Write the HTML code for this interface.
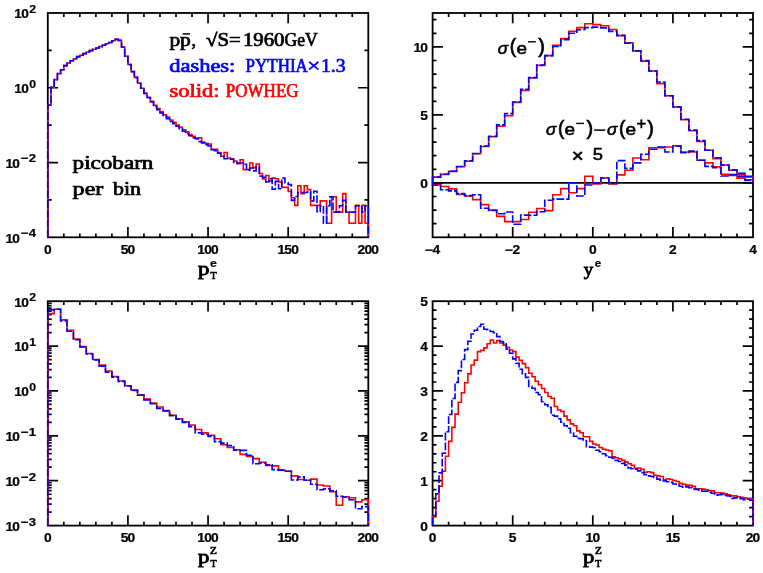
<!DOCTYPE html>
<html><head><meta charset="utf-8"><title>plot</title>
<style>
html,body{margin:0;padding:0;background:#fff;}
body{width:763px;height:573px;overflow:hidden;}
svg{display:block;will-change:transform;opacity:0.999;}
text{font-family:"Liberation Sans",sans-serif;fill:#000;}
.tl{font-size:12px;font-weight:bold;stroke:#000;stroke-width:0.2px;letter-spacing:-0.7px;}
.ser{font-family:"Liberation Serif",serif;font-weight:normal;font-size:18px;stroke:#000;stroke-width:0.7px;}
.axp{font-family:"Liberation Serif",serif;font-weight:normal;font-size:20.5px;stroke:#000;stroke-width:0.8px;}
.axs{font-family:"Liberation Serif",serif;font-weight:normal;font-size:12px;stroke:#000;stroke-width:0.6px;}
.supe{font-size:12px;font-weight:bold;}
.sig{font-size:17.5px;font-weight:normal;stroke:#000;stroke-width:0.35px;}
.it{font-style:italic;}
</style></head>
<body>
<svg width="763" height="573" viewBox="0 0 763 573">
<rect width="763" height="573" fill="#fff"/>
<rect x="47.8" y="13" width="320.5" height="224.3" fill="none" stroke="#000" stroke-width="1.8"/>
<path d="M127.92 237.3v-10.3M127.92 13v10.3M208.05 237.3v-10.3M208.05 13v10.3M288.18 237.3v-10.3M288.18 13v10.3M63.83 237.3v-3.9M63.83 13v3.9M79.85 237.3v-3.9M79.85 13v3.9M95.88 237.3v-3.9M95.88 13v3.9M111.9 237.3v-3.9M111.9 13v3.9M143.95 237.3v-3.9M143.95 13v3.9M159.97 237.3v-3.9M159.97 13v3.9M176 237.3v-3.9M176 13v3.9M192.02 237.3v-3.9M192.02 13v3.9M224.07 237.3v-3.9M224.07 13v3.9M240.1 237.3v-3.9M240.1 13v3.9M256.12 237.3v-3.9M256.12 13v3.9M272.15 237.3v-3.9M272.15 13v3.9M304.2 237.3v-3.9M304.2 13v3.9M320.23 237.3v-3.9M320.23 13v3.9M336.25 237.3v-3.9M336.25 13v3.9M352.27 237.3v-3.9M352.27 13v3.9" stroke="#000" stroke-width="1.7" fill="none"/>
<path d="M47.8 87.77h10.3M368.3 87.77h-10.3M47.8 162.53h10.3M368.3 162.53h-10.3M47.8 50.38h3.9M368.3 50.38h-3.9M47.8 125.15h3.9M368.3 125.15h-3.9M47.8 199.92h3.9M368.3 199.92h-3.9" stroke="#000" stroke-width="1.7" fill="none"/>
<text class="tl" text-anchor="middle" transform="translate(47.4 253.7) scale(1.15 1)">0</text>
<text class="tl" text-anchor="middle" transform="translate(127.52 253.7) scale(1.15 1)">50</text>
<text class="tl" text-anchor="middle" transform="translate(207.65 253.7) scale(1.15 1)">100</text>
<text class="tl" text-anchor="middle" transform="translate(287.78 253.7) scale(1.15 1)">150</text>
<text class="tl" text-anchor="middle" transform="translate(367.9 253.7) scale(1.15 1)">200</text>
<text class="tl" text-anchor="end" transform="translate(27.95 18.3) scale(1.14 1)">10</text>
<text class="tl" text-anchor="end" transform="translate(35.3 12.9) scale(1.06 1)" style="font-size:11.5px">2</text>
<text class="tl" text-anchor="end" transform="translate(27.95 93.07) scale(1.14 1)">10</text>
<text class="tl" text-anchor="end" transform="translate(35.3 87.67) scale(1.06 1)" style="font-size:11.5px">0</text>
<text class="tl" text-anchor="end" transform="translate(19.15 167.83) scale(1.14 1)">10</text>
<text class="tl" x="21.1" y="162.43" textLength="15" lengthAdjust="spacingAndGlyphs" style="font-size:11.5px;letter-spacing:0">−2</text>
<text class="tl" text-anchor="end" transform="translate(19.15 242.6) scale(1.14 1)">10</text>
<text class="tl" x="21.1" y="237.2" textLength="15" lengthAdjust="spacingAndGlyphs" style="font-size:11.5px;letter-spacing:0">−4</text>
<path d="M47.8 237.3V105.1H51V87.4H54.21V79.6H57.41V73.6H60.62V69.7H63.82V65.6H67.03V63H70.23V60.8H73.44V58.8H76.64V56.6H79.85V55.2H83.06V53.6H86.26V52H89.47V50.6H92.67V49.3H95.88V48H99.08V46.6H102.28V45.2H105.49V43.8H108.69V42.5H111.9V40.8H115.11V39.4H118.31V40.4H121.52V47H124.72V56.2H127.92V64.5H131.13V71.6H134.33V77.4H137.54V83.2H140.75V88.2H143.95V93.4H147.16V97.5H150.36V101.6H153.56V105.3H156.77V108.6H159.97V111.9H163.18V114.8H166.38V117.1H169.59V120H172.8V122.4H176V125H179.2V127.2H182.41V129.8H185.62V131.9H188.82V134.5H192.02V136.3H195.23V138.1H198.44V137.8H201.64V143.3H204.85V143.3H208.05V144H211.25V149.2H214.46V149.2H217.67V152.5H220.87V156.3H224.07V152.5H227.28V158H230.49V158.9H233.69V161H236.89V163.7H240.1V159.7H243.31V169.6H246.51V169.6H249.71V163H252.92V167.6H256.12V164H259.33V173.5H262.54V179H265.74V175.5H268.94V181.1H272.15V178.1H275.36V178.8H278.56V182H281.76V187.4H284.97V187.4H288.18V191.5H291.38V197.8H294.58V205.4H297.79V185.7H301V193.8H304.2V185.7H307.41V189.6H310.61V205.4H313.81V205.4H317.02V205.4H320.23V200.9H323.43V200.9H326.63V223.2H329.84V223.2H331.6V196.8H333.05V196.8H336.25V212.1H339.46V212.1H342.66V193.6H345.87V212.1H349.07V223.2H352.28V223.2H355.48V205.4H358.69V223.2H361.89V205.4H365.1V223.2H368.3V237.3" fill="none" stroke="#ff0000" stroke-width="1.6" stroke-linejoin="miter"/>
<path d="M47.8 237.3V105.1H51V87.4H54.21V79.6H57.41V73.6H60.62V69.7H63.82V65.6H67.03V63H70.23V60.8H73.44V58.8H76.64V56.6H79.85V55.2H83.06V53.6H86.26V52H89.47V50.6H92.67V49.3H95.88V48H99.08V46.6H102.28V45.2H105.49V43.8H108.69V42.5H111.9V40.8H115.11V39.4H118.31V40.4H121.52V47H124.72V56.2H127.92V64.5H131.13V71.6H134.33V77.4H137.54V83.2H140.75V88.2H143.95V93.4H147.16V97.5H150.36V101.6H153.56V106.4H156.77V109.7H159.97V113H163.18V115.8H166.38V118.6H169.59V121.5H172.8V123.8H176V126.2H179.2V128.7H182.41V131.3H185.62V133.6H188.82V135.7H192.02V137.8H195.23V138.8H198.44V141.6H201.64V142.3H204.85V144.6H208.05V146H211.25V149.7H214.46V150.6H217.67V153.2H220.87V156.5H224.07V158.8H227.28V158.8H230.49V159.3H233.69V162.4H236.89V163H240.1V163H243.31V164.3H246.51V170.2H249.71V168H252.92V170.9H256.12V166.9H259.33V176.1H262.54V177.4H265.74V182H268.94V178.7H272.15V189.2H275.36V181.4H278.56V188.8H281.76V178.1H284.97V182.7H288.18V184.6H291.38V200.4H294.58V196.5H297.79V192.5H301V192.5H304.2V192.5H307.41V191.9H310.61V200.9H313.81V191.2H317.02V211.8H320.23V205.7H323.43V223.2H326.63V205.7H329.84V196.8H333.05V212.1H336.25V212.1H339.46V205.7H342.66V200.4H345.87V212.1H349.07V212.1H352.28V212.1H355.48V205.7H358.69V205.7H361.89V212.1H365.1V205.7H368.3V237.3" fill="none" stroke="#0000ff" stroke-width="1.6" stroke-dasharray="7.8 2.0" stroke-linejoin="miter"/>
<path d="M432.6 182.9H753" stroke="#000" stroke-width="1.7" fill="none"/>
<rect x="432.6" y="13" width="320.4" height="224.3" fill="none" stroke="#000" stroke-width="1.8"/>
<path d="M512.7 237.3v-10.3M512.7 13v10.3M592.8 237.3v-10.3M592.8 13v10.3M672.9 237.3v-10.3M672.9 13v10.3M448.62 237.3v-3.9M448.62 13v3.9M464.64 237.3v-3.9M464.64 13v3.9M480.66 237.3v-3.9M480.66 13v3.9M496.68 237.3v-3.9M496.68 13v3.9M528.72 237.3v-3.9M528.72 13v3.9M544.74 237.3v-3.9M544.74 13v3.9M560.76 237.3v-3.9M560.76 13v3.9M576.78 237.3v-3.9M576.78 13v3.9M608.82 237.3v-3.9M608.82 13v3.9M624.84 237.3v-3.9M624.84 13v3.9M640.86 237.3v-3.9M640.86 13v3.9M656.88 237.3v-3.9M656.88 13v3.9M688.92 237.3v-3.9M688.92 13v3.9M704.94 237.3v-3.9M704.94 13v3.9M720.96 237.3v-3.9M720.96 13v3.9M736.98 237.3v-3.9M736.98 13v3.9" stroke="#000" stroke-width="1.7" fill="none"/>
<path d="M432.6 46.9h10.3M753 46.9h-10.3M432.6 114.9h10.3M753 114.9h-10.3M432.6 182.9h10.3M753 182.9h-10.3M432.6 223.7h3.9M753 223.7h-3.9M432.6 210.1h3.9M753 210.1h-3.9M432.6 196.5h3.9M753 196.5h-3.9M432.6 169.3h3.9M753 169.3h-3.9M432.6 155.7h3.9M753 155.7h-3.9M432.6 142.1h3.9M753 142.1h-3.9M432.6 128.5h3.9M753 128.5h-3.9M432.6 101.3h3.9M753 101.3h-3.9M432.6 87.7h3.9M753 87.7h-3.9M432.6 74.1h3.9M753 74.1h-3.9M432.6 60.5h3.9M753 60.5h-3.9M432.6 33.3h3.9M753 33.3h-3.9M432.6 19.7h3.9M753 19.7h-3.9" stroke="#000" stroke-width="1.7" fill="none"/>
<text class="tl" text-anchor="middle" transform="translate(432.2 253.7) scale(1.15 1)">−4</text>
<text class="tl" text-anchor="middle" transform="translate(512.3 253.7) scale(1.15 1)">−2</text>
<text class="tl" text-anchor="middle" transform="translate(592.4 253.7) scale(1.15 1)">0</text>
<text class="tl" text-anchor="middle" transform="translate(672.5 253.7) scale(1.15 1)">2</text>
<text class="tl" text-anchor="middle" transform="translate(752.6 253.7) scale(1.15 1)">4</text>
<text class="tl" text-anchor="end" transform="translate(427.2 188) scale(1.15 1)">0</text>
<text class="tl" text-anchor="end" transform="translate(427.2 120) scale(1.15 1)">5</text>
<text class="tl" text-anchor="end" transform="translate(427.2 52) scale(1.15 1)">10</text>
<path d="M432.6 182.9V177.1H440.61V174.4H448.62V171.4H456.63V166.8H464.64V161.2H472.65V153.7H480.66V146.5H488.67V136.7H496.68V126.2H504.69V115.7H512.7V102.4H520.71V90.5H528.72V77.9H536.73V65.4H544.74V55.6H552.75V45.4H560.76V38.6H568.77V31.2H576.78V27.6H584.79V23.8H592.8V24.6H600.81V25.7H608.82V29.5H616.83V35.6H624.84V42.7H632.85V50.9H640.86V61.1H648.87V71H656.88V83.6H664.89V95.7H672.9V106.9H680.91V119.7H688.92V130.7H696.93V141.5H704.94V150.2H712.95V158.6H720.96V165H728.97V170.3H736.98V174.6H744.99V176.9H753V182.9" fill="none" stroke="#ff0000" stroke-width="1.6" stroke-linejoin="miter"/>
<path d="M432.6 182.9V177.1H440.61V174.2H448.62V171.2H456.63V166.5H464.64V160.8H472.65V153.5H480.66V146H488.67V136.2H496.68V124.9H504.69V113.6H512.7V102H520.71V89.4H528.72V77.6H536.73V65H544.74V55.6H552.75V46.5H560.76V39.6H568.77V33.3H576.78V29.7H584.79V27.6H592.8V27.1H600.81V27.9H608.82V31.4H616.83V35.4H624.84V43.3H632.85V50.9H640.86V60.6H648.87V71H656.88V82H664.89V95.7H672.9V106.9H680.91V119.3H688.92V130.1H696.93V140.6H704.94V150.2H712.95V157.7H720.96V165H728.97V169.9H736.98V173.4H744.99V176.4H753V182.9" fill="none" stroke="#0000ff" stroke-width="1.6" stroke-dasharray="7.8 2.0" stroke-linejoin="miter"/>
<path d="M432.6 182.9V184.9H440.61V186.5H448.62V188.9H456.63V194.4H464.64V196H472.65V199.6H480.66V204.6H488.67V210.1H496.68V216.4H504.69V221.6H512.7V221.6H520.71V219.5H528.72V212.2H536.73V208.5H544.74V210.6H552.75V194.7H560.76V188.6H568.77V192.8H576.78V188.6H584.79V176.3H592.8V184H600.81V178H608.82V184H616.83V174.9H624.84V170.3H632.85V158H640.86V159.8H648.87V147.7H656.88V147.7H664.89V147H672.9V145.8H680.91V152H688.92V152H696.93V160.2H704.94V162.9H712.95V166.8H720.96V174.3H728.97V175.5H736.98V178.1H744.99V179.9H753V182.9" fill="none" stroke="#ff0000" stroke-width="1.6" stroke-linejoin="miter"/>
<path d="M432.6 182.9V185.3H440.61V189.7H448.62V190.9H456.63V193.6H464.64V195.6H472.65V194.7H480.66V208.2H488.67V210.4H496.68V213.7H504.69V212H512.7V224.3H520.71V215.1H528.72V215.3H536.73V211.7H544.74V200.2H552.75V199.1H560.76V199.1H568.77V182.8H576.78V196H584.79V185H592.8V183.1H600.81V178H608.82V183.5H616.83V160.6H624.84V168.4H632.85V162.9H640.86V154.3H648.87V149.2H656.88V147H664.89V152H672.9V146.2H680.91V152.8H688.92V151.1H696.93V160.2H704.94V166.4H712.95V167.7H720.96V176H728.97V174.6H736.98V176.4H744.99V180.4H753V182.9" fill="none" stroke="#0000ff" stroke-width="1.6" stroke-dasharray="7.8 2.0" stroke-linejoin="miter"/>
<rect x="47.8" y="301.2" width="320.5" height="224.4" fill="none" stroke="#000" stroke-width="1.8"/>
<path d="M127.92 525.6v-10.3M127.92 301.2v10.3M208.05 525.6v-10.3M208.05 301.2v10.3M288.18 525.6v-10.3M288.18 301.2v10.3M63.83 525.6v-3.9M63.83 301.2v3.9M79.85 525.6v-3.9M79.85 301.2v3.9M95.88 525.6v-3.9M95.88 301.2v3.9M111.9 525.6v-3.9M111.9 301.2v3.9M143.95 525.6v-3.9M143.95 301.2v3.9M159.97 525.6v-3.9M159.97 301.2v3.9M176 525.6v-3.9M176 301.2v3.9M192.02 525.6v-3.9M192.02 301.2v3.9M224.07 525.6v-3.9M224.07 301.2v3.9M240.1 525.6v-3.9M240.1 301.2v3.9M256.12 525.6v-3.9M256.12 301.2v3.9M272.15 525.6v-3.9M272.15 301.2v3.9M304.2 525.6v-3.9M304.2 301.2v3.9M320.23 525.6v-3.9M320.23 301.2v3.9M336.25 525.6v-3.9M336.25 301.2v3.9M352.27 525.6v-3.9M352.27 301.2v3.9" stroke="#000" stroke-width="1.7" fill="none"/>
<path d="M47.8 346.08h10.3M368.3 346.08h-10.3M47.8 390.96h10.3M368.3 390.96h-10.3M47.8 435.84h10.3M368.3 435.84h-10.3M47.8 480.72h10.3M368.3 480.72h-10.3M47.8 332.57h3.9M368.3 332.57h-3.9M47.8 324.67h3.9M368.3 324.67h-3.9M47.8 319.06h3.9M368.3 319.06h-3.9M47.8 314.71h3.9M368.3 314.71h-3.9M47.8 311.16h3.9M368.3 311.16h-3.9M47.8 308.15h3.9M368.3 308.15h-3.9M47.8 305.55h3.9M368.3 305.55h-3.9M47.8 303.25h3.9M368.3 303.25h-3.9M47.8 377.45h3.9M368.3 377.45h-3.9M47.8 369.55h3.9M368.3 369.55h-3.9M47.8 363.94h3.9M368.3 363.94h-3.9M47.8 359.59h3.9M368.3 359.59h-3.9M47.8 356.04h3.9M368.3 356.04h-3.9M47.8 353.03h3.9M368.3 353.03h-3.9M47.8 350.43h3.9M368.3 350.43h-3.9M47.8 348.13h3.9M368.3 348.13h-3.9M47.8 422.33h3.9M368.3 422.33h-3.9M47.8 414.43h3.9M368.3 414.43h-3.9M47.8 408.82h3.9M368.3 408.82h-3.9M47.8 404.47h3.9M368.3 404.47h-3.9M47.8 400.92h3.9M368.3 400.92h-3.9M47.8 397.91h3.9M368.3 397.91h-3.9M47.8 395.31h3.9M368.3 395.31h-3.9M47.8 393.01h3.9M368.3 393.01h-3.9M47.8 467.21h3.9M368.3 467.21h-3.9M47.8 459.31h3.9M368.3 459.31h-3.9M47.8 453.7h3.9M368.3 453.7h-3.9M47.8 449.35h3.9M368.3 449.35h-3.9M47.8 445.8h3.9M368.3 445.8h-3.9M47.8 442.79h3.9M368.3 442.79h-3.9M47.8 440.19h3.9M368.3 440.19h-3.9M47.8 437.89h3.9M368.3 437.89h-3.9M47.8 512.09h3.9M368.3 512.09h-3.9M47.8 504.19h3.9M368.3 504.19h-3.9M47.8 498.58h3.9M368.3 498.58h-3.9M47.8 494.23h3.9M368.3 494.23h-3.9M47.8 490.68h3.9M368.3 490.68h-3.9M47.8 487.67h3.9M368.3 487.67h-3.9M47.8 485.07h3.9M368.3 485.07h-3.9M47.8 482.77h3.9M368.3 482.77h-3.9" stroke="#000" stroke-width="1.7" fill="none"/>
<text class="tl" text-anchor="middle" transform="translate(47.4 542) scale(1.15 1)">0</text>
<text class="tl" text-anchor="middle" transform="translate(127.52 542) scale(1.15 1)">50</text>
<text class="tl" text-anchor="middle" transform="translate(207.65 542) scale(1.15 1)">100</text>
<text class="tl" text-anchor="middle" transform="translate(287.78 542) scale(1.15 1)">150</text>
<text class="tl" text-anchor="middle" transform="translate(367.9 542) scale(1.15 1)">200</text>
<text class="tl" text-anchor="end" transform="translate(27.95 306.5) scale(1.14 1)">10</text>
<text class="tl" text-anchor="end" transform="translate(35.3 301.1) scale(1.06 1)" style="font-size:11.5px">2</text>
<text class="tl" text-anchor="end" transform="translate(27.95 351.38) scale(1.14 1)">10</text>
<text class="tl" text-anchor="end" transform="translate(35.3 345.98) scale(1.06 1)" style="font-size:11.5px">1</text>
<text class="tl" text-anchor="end" transform="translate(27.95 396.26) scale(1.14 1)">10</text>
<text class="tl" text-anchor="end" transform="translate(35.3 390.86) scale(1.06 1)" style="font-size:11.5px">0</text>
<text class="tl" text-anchor="end" transform="translate(19.15 441.14) scale(1.14 1)">10</text>
<text class="tl" x="21.1" y="435.74" textLength="15" lengthAdjust="spacingAndGlyphs" style="font-size:11.5px;letter-spacing:0">−1</text>
<text class="tl" text-anchor="end" transform="translate(19.15 486.02) scale(1.14 1)">10</text>
<text class="tl" x="21.1" y="480.62" textLength="15" lengthAdjust="spacingAndGlyphs" style="font-size:11.5px;letter-spacing:0">−2</text>
<text class="tl" text-anchor="end" transform="translate(19.15 530.9) scale(1.14 1)">10</text>
<text class="tl" x="21.1" y="525.5" textLength="15" lengthAdjust="spacingAndGlyphs" style="font-size:11.5px;letter-spacing:0">−3</text>
<path d="M47.8 525.6V313.6H54.21V309.2H60.62V319.9H67.03V330.4H73.44V339H79.85V346.6H86.26V353.5H92.67V359.5H99.08V365H105.49V371H111.9V376.5H118.31V381H124.72V385.7H131.13V390.1H137.54V394.9H143.95V399.1H150.36V403H156.77V407H163.18V410.6H169.59V415.3H176V418.8H182.41V421.9H188.82V425H195.23V429.5H201.64V432.9H208.05V435.3H214.46V438.7H220.87V444.7H227.28V447.5H233.69V449.7H240.1V454.4H246.51V456.4H252.92V458.6H259.33V462.2H265.74V465.4H272.15V465.9H278.56V470.1H284.97V471.2H291.38V475.9H297.79V479.5H304.2V480.3H310.61V479.1H317.02V485H323.43V486H329.84V491.8H336.25V505.2H342.66V496.7H349.07V497.7H355.48V501.9H361.89V499.8H368.3V525.6" fill="none" stroke="#ff0000" stroke-width="1.6" stroke-linejoin="miter"/>
<path d="M47.8 525.6V309.9H54.21V309.2H60.62V321H67.03V331.2H73.44V339.8H79.85V346.9H86.26V354H92.67V360H99.08V366.1H105.49V372.1H111.9V377.1H118.31V381.4H124.72V386H131.13V390.4H137.54V395.2H143.95V399.9H150.36V403.8H156.77V408.5H163.18V410.9H169.59V415.6H176V419.1H182.41V422.4H188.82V426.6H195.23V432.9H201.64V434.2H208.05V436.4H214.46V441.6H220.87V443.1H227.28V445.6H233.69V450.1H240.1V450.4H246.51V455.2H252.92V463.8H259.33V463H265.74V464.9H272.15V469.6H278.56V470.1H284.97V471.2H291.38V480H297.79V476.9H304.2V480.3H310.61V484.2H317.02V489.8H323.43V488.9H329.84V490.8H336.25V496.2H342.66V497H349.07V499.8H355.48V508.7H361.89V506.6H368.3V525.6" fill="none" stroke="#0000ff" stroke-width="1.6" stroke-dasharray="7.8 2.0" stroke-linejoin="miter"/>
<rect x="432.6" y="301.2" width="320.4" height="224.4" fill="none" stroke="#000" stroke-width="1.8"/>
<path d="M512.7 525.6v-10.3M512.7 301.2v10.3M592.8 525.6v-10.3M592.8 301.2v10.3M672.9 525.6v-10.3M672.9 301.2v10.3M448.62 525.6v-3.9M448.62 301.2v3.9M464.64 525.6v-3.9M464.64 301.2v3.9M480.66 525.6v-3.9M480.66 301.2v3.9M496.68 525.6v-3.9M496.68 301.2v3.9M528.72 525.6v-3.9M528.72 301.2v3.9M544.74 525.6v-3.9M544.74 301.2v3.9M560.76 525.6v-3.9M560.76 301.2v3.9M576.78 525.6v-3.9M576.78 301.2v3.9M608.82 525.6v-3.9M608.82 301.2v3.9M624.84 525.6v-3.9M624.84 301.2v3.9M640.86 525.6v-3.9M640.86 301.2v3.9M656.88 525.6v-3.9M656.88 301.2v3.9M688.92 525.6v-3.9M688.92 301.2v3.9M704.94 525.6v-3.9M704.94 301.2v3.9M720.96 525.6v-3.9M720.96 301.2v3.9M736.98 525.6v-3.9M736.98 301.2v3.9" stroke="#000" stroke-width="1.7" fill="none"/>
<path d="M432.6 480.72h10.3M753 480.72h-10.3M432.6 435.84h10.3M753 435.84h-10.3M432.6 390.96h10.3M753 390.96h-10.3M432.6 346.08h10.3M753 346.08h-10.3M432.6 516.62h3.9M753 516.62h-3.9M432.6 507.65h3.9M753 507.65h-3.9M432.6 498.67h3.9M753 498.67h-3.9M432.6 489.7h3.9M753 489.7h-3.9M432.6 471.74h3.9M753 471.74h-3.9M432.6 462.77h3.9M753 462.77h-3.9M432.6 453.79h3.9M753 453.79h-3.9M432.6 444.82h3.9M753 444.82h-3.9M432.6 426.86h3.9M753 426.86h-3.9M432.6 417.89h3.9M753 417.89h-3.9M432.6 408.91h3.9M753 408.91h-3.9M432.6 399.94h3.9M753 399.94h-3.9M432.6 381.98h3.9M753 381.98h-3.9M432.6 373.01h3.9M753 373.01h-3.9M432.6 364.03h3.9M753 364.03h-3.9M432.6 355.06h3.9M753 355.06h-3.9M432.6 337.1h3.9M753 337.1h-3.9M432.6 328.13h3.9M753 328.13h-3.9M432.6 319.15h3.9M753 319.15h-3.9M432.6 310.18h3.9M753 310.18h-3.9" stroke="#000" stroke-width="1.7" fill="none"/>
<text class="tl" text-anchor="middle" transform="translate(432.2 542) scale(1.15 1)">0</text>
<text class="tl" text-anchor="middle" transform="translate(512.3 542) scale(1.15 1)">5</text>
<text class="tl" text-anchor="middle" transform="translate(592.4 542) scale(1.15 1)">10</text>
<text class="tl" text-anchor="middle" transform="translate(672.5 542) scale(1.15 1)">15</text>
<text class="tl" text-anchor="middle" transform="translate(752.6 542) scale(1.15 1)">20</text>
<text class="tl" text-anchor="end" transform="translate(427.2 530.7) scale(1.15 1)">0</text>
<text class="tl" text-anchor="end" transform="translate(427.2 485.82) scale(1.15 1)">1</text>
<text class="tl" text-anchor="end" transform="translate(427.2 440.94) scale(1.15 1)">2</text>
<text class="tl" text-anchor="end" transform="translate(427.2 396.06) scale(1.15 1)">3</text>
<text class="tl" text-anchor="end" transform="translate(427.2 351.18) scale(1.15 1)">4</text>
<text class="tl" text-anchor="end" transform="translate(427.2 306.3) scale(1.15 1)">5</text>
<path d="M432.6 525.6V516.1H435.8V501.2H439.01V486.2H442.21V471.3H445.42V456.2H448.62V441.4H451.82V427.4H455.03V414.1H458.23V402.2H461.44V392.8H464.64V382.7H467.84V373.9H471.05V365H474.25V360.1H477.46V351.6H480.66V350.4H483.86V347.9H487.07V343.7H490.27V340H493.48V343H496.68V340.6H499.88V343H503.09V345.1H506.29V347.3H509.5V350H512.7V351.6H515.9V357.1H519.11V360.4H522.31V363.6H525.52V367.6H528.72V373.3H531.92V376.8H535.13V381.2H538.33V384.7H541.54V388.5H544.74V392.5H547.94V396.5H551.15V398.3H554.35V406.5H557.56V410H560.76V411.4H563.96V416.1H567.17V419.9H570.37V423.9H573.58V425.7H576.78V430.9H579.98V432.7H583.19V436.7H586.39V436.7H589.6V441.4H592.8V444H596V445H599.21V447.5H602.41V449.3H605.62V450H608.82V450.8H612.02V456.9H615.23V457.8H618.43V458.8H621.64V460.4H624.84V462.1H628.04V463.8H631.25V465.4H634.45V468.3H637.66V468H640.86V469.3H644.06V472.2H647.27V471.7H650.47V472.6H653.68V475.2H656.88V475.9H660.08V476.5H663.29V479.8H666.49V478.8H669.7V479.5H672.9V480.5H676.1V481.5H679.31V483.4H682.51V484.2H685.72V485.1H688.92V485.4H692.12V486.2H695.33V488.8H698.53V488.8H701.74V489.1H704.94V489.7H708.14V490.5H711.35V490.9H714.55V492.8H717.76V492.8H720.96V493.1H724.16V493.9H727.37V494.7H730.57V495.9H733.78V495.9H736.98V496.8H740.18V497.4H743.39V497.9H746.59V498.5H749.8V498.8H753V525.6" fill="none" stroke="#ff0000" stroke-width="1.6" stroke-linejoin="miter"/>
<path d="M432.6 525.6V515.5H435.8V493.9H439.01V472.9H442.21V453.3H445.42V431.7H448.62V414.5H451.82V398.5H455.03V382.4H458.23V370.6H461.44V359.5H464.64V349.6H467.84V341.3H471.05V334H474.25V330.2H477.46V326.5H480.66V324.2H483.86V329.3H487.07V329.6H490.27V331.5H493.48V332.8H496.68V336.6H499.88V341.5H503.09V342.9H506.29V349.1H509.5V353.2H512.7V358.9H515.9V363.2H519.11V369.2H522.31V373.9H525.52V377.4H528.72V386.4H531.92V388.2H535.13V392.5H538.33V394.8H541.54V401.8H544.74V404.7H547.94V407.4H551.15V415.2H554.35V416.1H557.56V418.7H560.76V422.2H563.96V425.7H567.17V428.3H570.37V432.7H573.58V436.2H576.78V438.4H579.98V438.8H583.19V440.5H586.39V446.6H589.6V447.1H592.8V447.5H596V450.2H599.21V451.8H602.41V453.8H605.62V455.6H608.82V457.3H612.02V458.2H615.23V460.4H618.43V461.5H621.64V463.4H624.84V465.1H628.04V468H631.25V468.7H634.45V469.3H637.66V470.9H640.86V472.6H644.06V474.6H647.27V475.9H650.47V476.5H653.68V477.4H656.88V479.1H660.08V480.2H663.29V480.9H666.49V481.8H669.7V482.4H672.9V484H676.1V485H679.31V486.2H682.51V487.2H685.72V486.9H688.92V487.7H692.12V489H695.33V489.4H698.53V490.2H701.74V491.3H704.94V491.3H708.14V492.2H711.35V493.2H714.55V495.1H717.76V494.7H720.96V494.5H724.16V495.4H727.37V495.9H730.57V498.5H733.78V497.9H736.98V497.4H740.18V498.8H743.39V499.6H746.59V499.1H749.8V500.2H753V525.6" fill="none" stroke="#0000ff" stroke-width="1.6" stroke-dasharray="7.8 2.0" stroke-linejoin="miter"/>
<text class="ser" x="169.4" y="46" textLength="21.4" lengthAdjust="spacingAndGlyphs">pp</text>
<text class="ser" x="191.4" y="46">,</text>
<path d="M182.6 33.9h7.4" stroke="#000" stroke-width="1.5"/>
<text class="ser" x="206" y="46" textLength="34.6" lengthAdjust="spacingAndGlyphs">√S=</text>
<text class="ser" x="242.9" y="46" textLength="41.6" lengthAdjust="spacingAndGlyphs">1960</text>
<text class="ser" x="284.6" y="46" textLength="33.2" lengthAdjust="spacingAndGlyphs">GeV</text>
<text class="ser" x="169.2" y="71.6" textLength="66.2" lengthAdjust="spacingAndGlyphs" style="fill:#0000ff;stroke:#0000ff">dashes:</text>
<text class="ser" x="245.6" y="71.6" textLength="62.2" lengthAdjust="spacingAndGlyphs" style="fill:#0000ff;stroke:#0000ff">PYTHIA</text>
<text class="ser" x="307.2" y="71.6" textLength="13" lengthAdjust="spacingAndGlyphs" style="fill:#0000ff;stroke:#0000ff">×</text>
<text class="ser" x="321" y="71.6" textLength="24.6" lengthAdjust="spacingAndGlyphs" style="fill:#0000ff;stroke:#0000ff">1.3</text>
<text class="ser" x="169.4" y="97" textLength="50" lengthAdjust="spacingAndGlyphs" style="fill:#ff0000;stroke:#ff0000">solid:</text>
<text class="ser" x="225.8" y="97" textLength="72.8" lengthAdjust="spacingAndGlyphs" style="fill:#ff0000;stroke:#ff0000">POWHEG</text>
<text class="ser" x="72.6" y="169.4" textLength="80.8" lengthAdjust="spacingAndGlyphs">picobarn</text>
<text class="ser" x="72.6" y="194.7" textLength="30.8" lengthAdjust="spacingAndGlyphs">per</text>
<text class="ser" x="113" y="194.7" textLength="28" lengthAdjust="spacingAndGlyphs">bin</text>
<text transform="matrix(0.2274 0 0 0.1807 197.94 274.89)" style="font-size:100px;font-family:'Liberation Serif',serif;stroke:#000;stroke-width:4.5">p</text>
<text transform="matrix(0.0995 0 0 0.1067 210.39 279.1)" style="font-size:100px;font-family:'Liberation Serif',serif;stroke:#000;stroke-width:7">T</text>
<text transform="matrix(0.1240 0 0 0.1030 209.97 266.54)" style="font-size:100px;font-weight:bold;stroke:#000;stroke-width:2">e</text>
<text transform="matrix(0.2274 0 0 0.1807 197.94 563.19)" style="font-size:100px;font-family:'Liberation Serif',serif;stroke:#000;stroke-width:4.5">p</text>
<text transform="matrix(0.0995 0 0 0.1067 210.39 567.4)" style="font-size:100px;font-family:'Liberation Serif',serif;stroke:#000;stroke-width:7">T</text>
<text transform="matrix(0.1126 0 0 0.1021 210.12 554)" style="font-size:100px;font-family:'Liberation Serif',serif;stroke:#000;stroke-width:7">Z</text>
<text transform="matrix(0.2274 0 0 0.1807 582.89 563.19)" style="font-size:100px;font-family:'Liberation Serif',serif;stroke:#000;stroke-width:4.5">p</text>
<text transform="matrix(0.0995 0 0 0.1067 595.34 567.4)" style="font-size:100px;font-family:'Liberation Serif',serif;stroke:#000;stroke-width:7">T</text>
<text transform="matrix(0.1126 0 0 0.1021 595.07 554)" style="font-size:100px;font-family:'Liberation Serif',serif;stroke:#000;stroke-width:7">Z</text>
<text transform="matrix(0.1880 0 0 0.1759 583.85 274.7)" style="font-size:100px;font-family:'Liberation Serif',serif;stroke:#000;stroke-width:4.5">y</text>
<text transform="matrix(0.1160 0 0 0.1083 594.74 266.53)" style="font-size:100px;font-weight:bold;stroke:#000;stroke-width:2">e</text>
<text transform="matrix(0.1705 0 0 0.1645 497.87 53.74)" style="font-size:100px;font-style:italic;stroke:#000;stroke-width:3.6">σ</text>
<text transform="matrix(0.1922 0 0 0.1973 509.8 53.48)" style="font-size:100px;;stroke:#000;stroke-width:3.6">(</text>
<text transform="matrix(0.1897 0 0 0.1599 516.41 53.74)" style="font-size:100px;;stroke:#000;stroke-width:3.6">e</text>
<path d="M528 41.8H535.8" stroke="#000" stroke-width="1.4" fill="none"/>
<text transform="matrix(0.1993 0 0 0.1973 538.2 53.48)" style="font-size:100px;;stroke:#000;stroke-width:3.6">)</text>
<text transform="matrix(0.1705 0 0 0.1645 546.07 135.34)" style="font-size:100px;font-style:italic;stroke:#000;stroke-width:3.6">σ</text>
<text transform="matrix(0.1922 0 0 0.1973 558 135.08)" style="font-size:100px;;stroke:#000;stroke-width:3.6">(</text>
<text transform="matrix(0.1897 0 0 0.1599 564.61 135.34)" style="font-size:100px;;stroke:#000;stroke-width:3.6">e</text>
<path d="M576.2 123.4H584" stroke="#000" stroke-width="1.4" fill="none"/>
<text transform="matrix(0.1993 0 0 0.1973 586.4 135.08)" style="font-size:100px;;stroke:#000;stroke-width:3.6">)</text>
<path d="M594.1 130.1H605.3" stroke="#000" stroke-width="1.5" fill="none"/>
<text transform="matrix(0.1705 0 0 0.1645 606.97 135.34)" style="font-size:100px;font-style:italic;stroke:#000;stroke-width:3.6">σ</text>
<text transform="matrix(0.1922 0 0 0.1973 618.9 135.08)" style="font-size:100px;;stroke:#000;stroke-width:3.6">(</text>
<text transform="matrix(0.1897 0 0 0.1599 625.51 135.34)" style="font-size:100px;;stroke:#000;stroke-width:3.6">e</text>
<text transform="matrix(0.1680 0 0 0.1600 636.51 128.55)" style="font-size:100px;;stroke:#000;stroke-width:3.6">+</text>
<text transform="matrix(0.1993 0 0 0.1973 647.3 135.08)" style="font-size:100px;;stroke:#000;stroke-width:3.6">)</text>
<text transform="matrix(0.2026 0 0 0.1898 571.74 162.37)" style="font-size:100px;;stroke:#000;stroke-width:3.6">×</text>
<text transform="matrix(0.1835 0 0 0.1572 592.63 160.35)" style="font-size:100px;;stroke:#000;stroke-width:3.6">5</text>
</svg>
</body></html>
